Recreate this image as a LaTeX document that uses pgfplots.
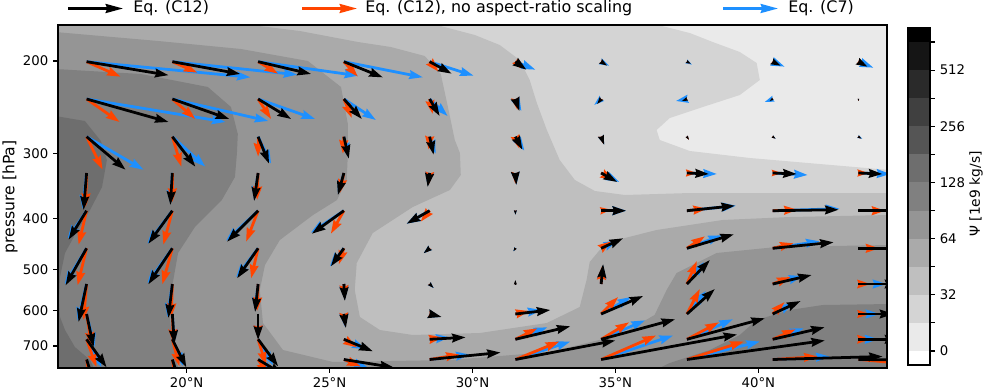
\documentclass[border=0pt]{standalone}
\usepackage{fontspec}
\setmainfont{DejaVu Sans}
\usepackage{pgfplots}
\usepackage{pgfplotstable}
\pgfplotsset{compat=1.18}
\usetikzlibrary{arrows.meta}

% grey levels of the colour bar, lightest first
\definecolor{lv0}{HTML}{EAEAEA}
\definecolor{lv1}{HTML}{D4D4D4}
\definecolor{lv2}{HTML}{BFBFBF}
\definecolor{lv3}{HTML}{AAAAAA}
\definecolor{lv4}{HTML}{959595}
\definecolor{lv5}{HTML}{808080}
\definecolor{lv6}{HTML}{6E6E6E}
\definecolor{lv7}{HTML}{555555}
\definecolor{lv8}{HTML}{404040}
\definecolor{lv9}{HTML}{2A2A2A}
\definecolor{lv10}{HTML}{151515}
\definecolor{qorange}{HTML}{FF4500}
\definecolor{qblue}{HTML}{1E90FF}

% tails: latitude, ln(p/hPa); vectors in figure pixels
% k = Eq. (C12), o = no aspect-ratio scaling, b = Eq. (C7); s = head scale
\pgfplotstableread{
x y kdx kdy ks odx ody os bdx bdy bs
16.5 5.3014 82 13.5 1 34 15 1 164 15.6 1
19.5 5.3014 68 12.3 1 25 11 1 125 13 1
22.5 5.3014 53 12.3 1 20 12 1 100 14 1
25.5 5.3014 39 15.7 1 14 15 1 79 15.6 1
28.5 5.3014 22 12 1 9 10 1 44 14 1
31.5 5.3014 11 8 1 6 7 0.74 20 8 1
34.5 5.3014 6 4 0.58 5 3 0.47 8 4 0.72
37.5 5.3014 4 2 0.36 3 2 0.29 5 3 0.47
40.5 5.3014 8 4 0.72 5 3 0.47 12 5 1
43.5 5.3014 9 5 0.82 5 3 0.47 15 6 1
16.5 5.4654 82 23 1 33 23 1 139 23 1
19.5 5.4654 57 20 1 23 20 1 96 22 1
22.5 5.4654 33 20 1 13 20 1 57 20 1
25.5 5.4654 18 20 1 8 19 1 32 21 1
28.5 5.4654 10 17 1 3 15 1 18 17 1
31.5 5.4654 4 12 1 2 11 0.9 6 12 1
34.5 5.4654 -4 5 0.51 -3 4 0.4 -7 6 0.74
37.5 5.4654 -5 2 0.43 -3 1 0.25 -11 2 0.9
40.5 5.4654 -3 2 0.29 -2 1 0.18 -8 3 0.68
43.5 5.4654 0 2 0.16 0 2 0.16 0 2 0.16
16.5 5.6311 39 33 1 16 33 1 57 33 1
19.5 5.6311 23 30 1 9 30 1 33 30 1
22.5 5.6311 11 27 1 0 20 1 13 27 1
25.5 5.6311 5 22 1 -1 17 1 4 20 1
28.5 5.6311 4 18 1 -1 13 1 6 17 1
31.5 5.6311 7 13 1 4 12 1 9 14 1
34.5 5.6311 3 8 0.68 2 7 0.58 3 8 0.68
37.5 5.6311 2 3 0.29 2 3 0.29 2 3 0.29
40.5 5.6311 3 2 0.29 2 2 0.23 3 2 0.29
43.5 5.6311 3 2 0.29 2 2 0.23 4 2 0.36
16.5 5.7906 -3 37 1 -1 34 1 -4 36 1
19.5 5.7906 -2 32 1 0 29 1 -2 31 1
22.5 5.7906 -4 28 1 -1 27 1 -4 27 1
25.5 5.7906 -6 22 1 -4 20 1 -6 21 1
28.5 5.7906 -2 14 1 -1 12 0.96 -2 13 1
31.5 5.7906 1 12 0.96 0 11 0.88 1 12 0.96
34.5 5.7906 16 9 1 13 7 1 18 9 1
37.5 5.7906 22 1 1 10 0 0.8 30 1 1
40.5 5.7906 24 1 1 9 0 0.72 35 2 1
43.5 5.7906 24 1 1 10 0 0.8 32 1 1
16.5 5.9564 -18 29 1 -8 34 1 -19 28 1
19.5 5.9564 -24 33 1 -9 34 1 -25 33 1
22.5 5.9564 -31 31 1 -12 31 1 -32 30 1
25.5 5.9564 -32 23 1 -13 23 1 -33 22 1
28.5 5.9564 -23 13 1 -9 11 1 -23 13 1
31.5 5.9564 0 4 0.32 0 3 0.24 0 4 0.32
34.5 5.9564 25 0 1 10 -1 0.8 25 0 1
37.5 5.9564 48 -5 1 20 -2 1 49 -5 1
40.5 5.9564 66 -1 1 25 -1 1 67 -2 1
43.5 5.9564 70 0 1 27 0 1 70 0 1
16.5 6.1216 -21 37 1 -9 37 1 -22 36 1
19.5 6.1216 -24 36 1 -10 36 1 -25 35 1
22.5 6.1216 -21 30 1 -7 30 1 -22 29 1
25.5 6.1216 -13 18 1 -5 16 1 -14 18 1
28.5 6.1216 -6 5 0.62 -3 4 0.4 -6 5 0.62
31.5 6.1216 -2 3 0.29 0 2 0.16 -2 3 0.29
34.5 6.1216 22 -10 1 10 -7 0.98 16 -8 1
37.5 6.1216 47 -14 1 18 -12 1 35 -13 1
40.5 6.1216 61 -6 1 21 -5 1 47 -7 1
43.5 6.1216 62 0 1 21 0 1 48 0 1
16.5 6.2786 -8 38 1 -3 36 1 -9 37 1
19.5 6.2786 -4 34 1 -1 33 1 -5 33 1
22.5 6.2786 -3 28 1 -1 27 1 -3 27 1
25.5 6.2786 1 17 1 1 15 1 1 16 1
28.5 6.2786 4 4 0.45 3 3 0.34 4 4 0.45
31.5 6.2786 0 -4 0.32 0 -3 0.24 0 -3 0.24
34.5 6.2786 2 -20 1 1 -18 1 2 -19 1
37.5 6.2786 23 -24 1 10 -23 1 17 -22 1
40.5 6.2786 39 -9 1 18 -7 1 30 -8 1
43.5 6.2786 40 0 1 12 0 0.96 28 0 1
16.5 6.4104 7 33 1 5 32 1 8 33 1
19.5 6.4104 2 30 1 1 29 1 2 29 1
22.5 6.4104 0 26 1 0 25 1 0 25 1
25.5 6.4104 2 14 1 1 12 0.97 1 13 1
28.5 6.4104 12 3 0.99 8 2 0.66 11 3 0.91
31.5 6.4104 35 -4 1 14 -3 1 26 -4 1
34.5 6.4104 42 -18 1 17 -17 1 30 -17 1
37.5 6.4104 28 -25 1 13 -25 1 19 -23 1
40.5 6.4104 28 -13 1 12 -12 1 21 -11 1
43.5 6.4104 35 0 1 11 0 0.88 21 0 1
16.5 6.5216 20 28 1 10 28 1 15 28 1
19.5 6.5216 14 28 1 7 27 1 11 27 1
22.5 6.5216 20 27 1 8 26 1 15 26 1
25.5 6.5216 29 12 1 13 8 1 22 10 1
28.5 6.5216 36 -2 1 13 -2 1 20 -2 1
31.5 6.5216 55 -13 1 22 -11 1 32 -12 1
34.5 6.5216 74 -20 1 28 -17 1 44 -19 1
37.5 6.5216 78 -21 1 32 -17 1 46 -20 1
40.5 6.5216 52 -12 1 23 -10 1 31 -11 1
43.5 6.5216 40 0 1 12 0 0.96 20 0 1
16.5 6.6104 8 25 1 4 25 1 6 25 1
19.5 6.6104 8 25 1 4 25 1 6 25 1
22.5 6.6104 25 15 1 10 15 1 16 15 1
25.5 6.6104 50 8 1 17 7 1 24 8 1
28.5 6.6104 71 -7 1 30 -5 1 40 -5 1
31.5 6.6104 100 -19 1 44 -18 1 55 -18 1
34.5 6.6104 136 -25 1 55 -24 1 72 -24 1
37.5 6.6104 138 -19 1 57 -18 1 73 -18 1
40.5 6.6104 110 -3 1 45 -3 1 57 -3 1
43.5 6.6104 110 1 1 45 4 1 55 3 1
}\arrowdata

\pgfplotsset{
  qv/.style={
    quiver={
      u=\thisrow{#1dx}*0.034965,
      v=\thisrow{#1dy}*0.0043956,
      every arrow/.append style={
        line width=\pgfplotspointmetatransformed*0.002bp,
        -{Stealth[length=\pgfplotspointmetatransformed*0.0097bp,width=\pgfplotspointmetatransformed*0.0062bp,inset=\pgfplotspointmetatransformed*0.001bp]},
      },
    },
    point meta=\thisrow{#1s},
  },
}

\begin{document}
\begin{tikzpicture}[x=0.72bp,y=-0.72bp]
\path[use as bounding box] (0,0) rectangle (987,389);

\begin{axis}[
  at={(41.76bp,-264.96bp)}, anchor=south west,
  scale only axis, width=596.88bp, height=246.96bp,
  xmin=15.5, xmax=44.5, ymin=5.1401, ymax=6.6478, y dir=reverse,
  xtick={20,25,30,35,40},
  xticklabels={20°N,25°N,30°N,35°N,40°N},
  ytick={5.298317,5.703782,5.991465,6.214608,6.396930,6.551080},
  yticklabels={200,300,400,500,600,700},
  tick align=outside, tick pos=left, major tick length=3.5bp,
  tick style={line width=0.8bp, black},
  axis line style={line width=0.8bp},
  ticklabel style={font=\fontsize{9.6}{11}\selectfont},
  point meta min=0, point meta max=1,
  axis on top,
]
% filled contours of Psi, one superlevel set per level
\addplot[draw=none, fill=lv0] coordinates {(15.4,5.1)(44.6,5.1)(44.6,6.7)(15.4,6.7)} -- cycle;
\addplot[draw=none, fill=lv1] coordinates {
  (15.4,5.1)(36.48,5.1)(36.48,5.1401)(37.60,5.1753)(38.40,5.2148)(39.35,5.2588)
  (39.94,5.3071)(40.05,5.3819)(39.35,5.4478)(37.95,5.5049)(36.90,5.5489)
  (36.44,5.6016)(36.55,5.6456)(37.60,5.6939)(39.70,5.7247)(42.14,5.7511)
  (44.6,5.7775)(44.6,6.7)(15.4,6.7)} -- cycle;
\addplot[draw=none, fill=lv2] coordinates {
  (15.4,5.1)(28.75,5.1)(28.75,5.1401)(30.08,5.1841)(30.95,5.2280)(31.65,5.2939)
  (32.00,5.3819)(32.25,5.4830)(32.60,5.6016)(33.05,5.7335)(33.58,5.8214)
  (34.28,5.8698)(35.33,5.8874)(37.60,5.8786)(41.10,5.8786)(44.6,5.8786)
  (44.6,6.7)(15.4,6.7)} -- cycle;
\addplot[draw=none, fill=lv3] coordinates {
  (15.4,5.1)(22.25,5.1)(22.25,5.1401)(23.96,5.1665)(25.99,5.2148)(27.14,5.2368)
  (28.33,5.2764)(28.89,5.3555)(29.14,5.5005)(29.38,5.6456)(29.56,5.7027)
  (29.59,5.7994)(29.21,5.8654)(27.91,5.9401)(26.51,6.0544)(25.95,6.1863)
  (25.88,6.3049)(26.06,6.4236)(26.76,6.4808)(27.91,6.5027)(30.26,6.4939)
  (32.60,6.4500)(33.75,6.3797)(33.99,6.2610)(34.10,6.1819)(34.45,6.1291)
  (35.05,6.0852)(36.44,6.0412)(38.75,5.9972)(41.10,5.9841)(44.6,5.9753)
  (44.6,6.7)(15.4,6.7)} -- cycle;
\addplot[draw=none, fill=lv4] coordinates {
  (15.4,5.1709)(19.00,5.2104)(21.90,5.2456)(24.24,5.2983)(25.40,5.4126)
  (25.64,5.5753)(25.64,5.7027)(25.60,5.8214)(25.26,5.9093)(24.42,5.9753)
  (23.26,6.0852)(22.74,6.1950)(22.56,6.3049)(22.67,6.4500)(23.37,6.5687)
  (25.12,6.6214)(29.21,6.6126)(32.70,6.5775)(35.15,6.5027)(36.37,6.4148)
  (36.79,6.3049)(37.14,6.2302)(38.54,6.1423)(40.64,6.1159)(44.6,6.1071)
  (44.6,6.7)(15.4,6.7)} -- cycle;
\addplot[draw=none, fill=lv5] coordinates {
  (15.4,5.3335)(18.40,5.3555)(20.74,5.4126)(21.55,5.5005)(21.79,5.6192)
  (21.76,5.7027)(21.69,5.8082)(21.23,5.9093)(20.29,6.0280)(19.70,6.1423)
  (19.49,6.2917)(19.42,6.4368)(19.52,6.5467)(19.80,6.7)(15.4,6.7)} -- cycle;
\addplot[draw=none, fill=lv5] coordinates {
  (44.6,6.3665)(42.25,6.3709)(41.10,6.3928)(39.94,6.4368)(39.35,6.5027)
  (38.30,6.5687)(36.90,6.6258)(35.70,6.7)(44.6,6.7)} -- cycle;
\addplot[draw=none, fill=lv6] coordinates {
  (15.4,5.5401)(16.44,5.5621)(17.00,5.6500)(17.21,5.7335)(17.04,5.8522)
  (16.62,5.9533)(16.09,6.0632)(15.745,6.1423)(15.57,6.2478)(15.535,6.3489)
  (15.57,6.4236)(15.745,6.4808)(16.09,6.5555)(16.62,6.6126)(16.95,6.7)
  (15.4,6.7)} -- cycle;
% arrows
\addplot[qv=b, qblue] table[x=x, y=y] {\arrowdata};
\addplot[qv=o, qorange] table[x=x, y=y] {\arrowdata};
\addplot[qv=k, black] table[x=x, y=y] {\arrowdata};
\end{axis}

% colour bar
\begin{axis}[
  at={(653.76bp,-262.8bp)}, anchor=south west,
  scale only axis, width=15.84bp, height=242.64bp,
  xmin=0, xmax=1, ymin=-0.5, ymax=11.5,
  xtick=\empty,
  ytick={0,1,2,3,4,5,6,7,8,9,10,11},
  yticklabels={0,,32,,64,,128,,256,,512,},
  ytick pos=right, yticklabel pos=right,
  tick align=outside, major tick length=3.5bp,
  tick style={line width=0.8bp, black},
  axis line style={line width=0.8bp},
  yticklabel style={font=\fontsize{9.6}{11}\selectfont},
  axis on top,
]
\addplot[draw=none, fill=white] coordinates {(0,-0.5)(1,-0.5)(1,0)(0,0)} -- cycle;
\addplot[draw=none, fill=lv0] coordinates {(0,0)(1,0)(1,1)(0,1)} -- cycle;
\addplot[draw=none, fill=lv1] coordinates {(0,1)(1,1)(1,2)(0,2)} -- cycle;
\addplot[draw=none, fill=lv2] coordinates {(0,2)(1,2)(1,3)(0,3)} -- cycle;
\addplot[draw=none, fill=lv3] coordinates {(0,3)(1,3)(1,4)(0,4)} -- cycle;
\addplot[draw=none, fill=lv4] coordinates {(0,4)(1,4)(1,5)(0,5)} -- cycle;
\addplot[draw=none, fill=lv5] coordinates {(0,5)(1,5)(1,6)(0,6)} -- cycle;
\addplot[draw=none, fill=lv6] coordinates {(0,6)(1,6)(1,7)(0,7)} -- cycle;
\addplot[draw=none, fill=lv7] coordinates {(0,7)(1,7)(1,8)(0,8)} -- cycle;
\addplot[draw=none, fill=lv8] coordinates {(0,8)(1,8)(1,9)(0,9)} -- cycle;
\addplot[draw=none, fill=lv9] coordinates {(0,9)(1,9)(1,10)(0,10)} -- cycle;
\addplot[draw=none, fill=lv10] coordinates {(0,10)(1,10)(1,11)(0,11)} -- cycle;
\addplot[draw=none, fill=black] coordinates {(0,11)(1,11)(1,11.5)(0,11.5)} -- cycle;
\end{axis}

% labels
\node[rotate=90, font=\fontsize{11.3}{13}\selectfont] at (10,197) {pressure [hPa]};
\node[rotate=90, font=\fontsize{10}{12}\selectfont] at (976,194) {Ψ [1e9 kg/s]};

% legend
\begin{scope}[line width=1.8bp]
\draw[black, -{Stealth[length=12.5bp,width=6.5bp,inset=1.2bp]}] (68,8.5) -- (123,8.5);
\draw[qorange, -{Stealth[length=12.5bp,width=6.5bp,inset=1.2bp]}] (302,8.5) -- (357,8.5);
\draw[qblue, -{Stealth[length=12.5bp,width=6.5bp,inset=1.2bp]}] (723,8.5) -- (778,8.5);
\end{scope}
\begin{scope}[every node/.style={anchor=west, inner sep=0pt, font=\fontsize{11.5}{13}\selectfont}]
\node at (133,8.5) {Eq. (C12)};
\node at (365,8.5) {Eq. (C12), no aspect-ratio scaling};
\node at (788,8.5) {Eq. (C7)};
\end{scope}
\end{tikzpicture}
\end{document}
